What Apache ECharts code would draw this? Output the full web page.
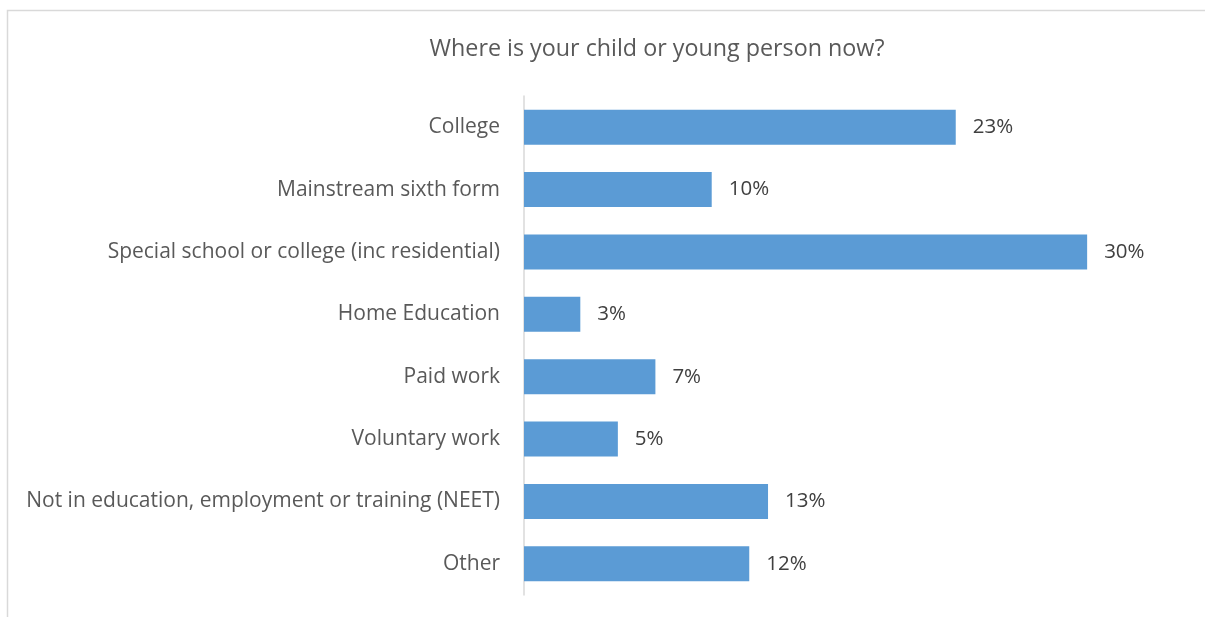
<!DOCTYPE html>
<html>
<head>
<meta charset="utf-8">
<script src="https://cdn.jsdelivr.net/npm/echarts@6/dist/echarts.min.js"></script>
<style>
  html, body { margin: 0; padding: 0; background: #fff; }
  #chart { width: 1205px; height: 617px; }
</style>
</head>
<body>
<div id="chart"></div>
<script>
// Survey answers: where the child or young person is now
const categories = [
  'College',
  'Mainstream sixth form',
  'Special school or college (inc residential)',
  'Home Education',
  'Paid work',
  'Voluntary work',
  'Not in education, employment or training (NEET)',
  'Other'
];
const percentages = [23, 10, 30, 3, 7, 5, 13, 12];

const FONT = '"Open Sans", "Noto Sans", sans-serif';
const chart = echarts.init(document.getElementById('chart'));

chart.setOption({
  animation: false,
  backgroundColor: '#ffffff',
  title: {
    text: 'Where is your child or young person now?',
    left: 652,
    top: 33,
    textAlign: 'center',
    textStyle: { fontFamily: FONT, fontSize: 23.3, fontWeight: 'normal', color: '#595959' }
  },
  graphic: [{
    type: 'rect',
    shape: { x: 7.5, y: 10.5, width: 1260, height: 700 },
    style: { fill: 'none', stroke: '#d9d9d9', lineWidth: 1.5 },
    silent: true
  }],
  grid: { left: 524, top: 96, bottom: 22, right: 24 },
  xAxis: {
    type: 'value',
    min: 0,
    max: 35,
    show: false
  },
  yAxis: {
    type: 'category',
    inverse: true,
    data: categories,
    axisLine: { show: true, lineStyle: { color: '#d9d9d9', width: 1.5 } },
    axisTick: { show: false },
    axisLabel: { fontFamily: FONT, fontSize: 21, color: '#595959', margin: 24 }
  },
  series: [{
    type: 'bar',
    data: percentages,
    barWidth: '56%',
    itemStyle: { color: '#5b9bd5' },
    label: {
      show: true,
      position: 'right',
      distance: 17,
      formatter: p => p.value + '%',
      fontFamily: FONT,
      fontSize: 20.5,
      color: '#404040'
    }
  }]
});
</script>
</body>
</html>
